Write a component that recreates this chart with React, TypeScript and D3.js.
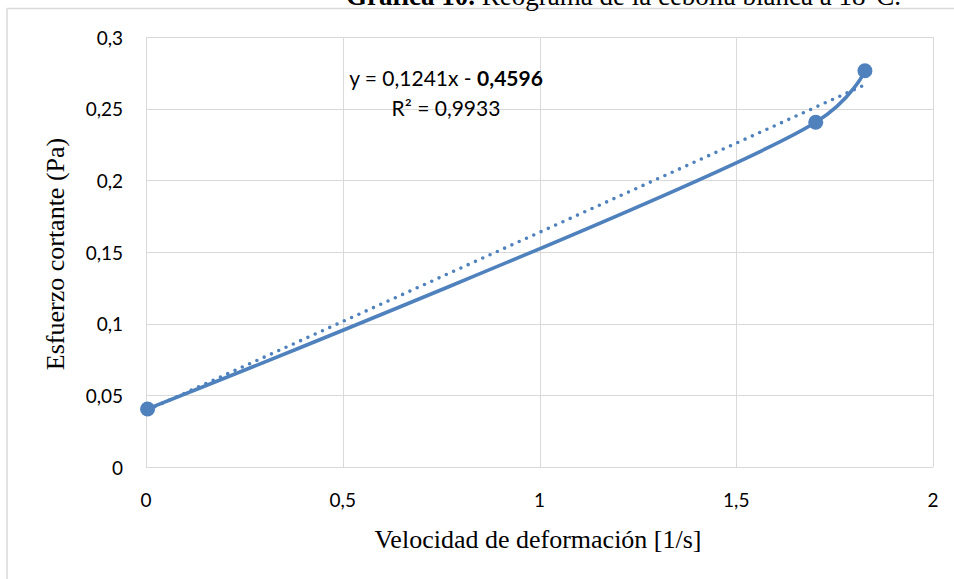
import React, { useRef, useEffect } from 'react';
import * as d3 from 'd3';

// shear rate (1/s) and shear stress (Pa)
const shearRate = [0.004, 1.702, 1.827];
const shearStress = [0.0405, 0.2405, 0.2765];

const xTicks = [0, 0.5, 1, 1.5, 2];
const yTicks = [0, 0.05, 0.1, 0.15, 0.2, 0.25, 0.3];

const eqText = 'y = 0,1241x - ';
const eqBold = '0,4596';
const r2Text = 'R² = 0,9933';

const W = 954;
const H = 579;
const BLUE = '#4f81bd';
const GRID = '#d9d9d9';

const fmt = (v: number) => String(v).replace('.', ',');

function App() {
  const svgRef = useRef<SVGSVGElement>(null);

  useEffect(() => {
    const svg = d3.select(svgRef.current);
    svg.selectAll('*').remove();

    const x = d3.scaleLinear().domain([0, 2]).range([146, 933]);
    const y = d3.scaleLinear().domain([0, 0.3]).range([467, 37]);

    // outer chart border (only top/left visible in the crop)
    svg.append('line').attr('x1', 7).attr('x2', W).attr('y1', 8.5).attr('y2', 8.5)
      .attr('stroke', GRID).attr('stroke-width', 1.5);
    svg.append('line').attr('x1', 7).attr('x2', 7).attr('y1', 8.5).attr('y2', H)
      .attr('stroke', GRID).attr('stroke-width', 1.5);

    // title, cut off at the top
    const title = svg.append('text')
      .attr('x', 346).attr('y', 5)
      .attr('font-family', 'Liberation Serif').attr('font-size', 27);
    title.append('tspan').attr('font-weight', 'bold').text('Gráfica 10.');
    title.append('tspan').text(' Reograma de la cebolla blanca a 18°C.');

    // grid
    svg.append('g').selectAll('line').data(yTicks).join('line')
      .attr('x1', x(0)).attr('x2', x(2))
      .attr('y1', d => Math.round(y(d)) + 0.5).attr('y2', d => Math.round(y(d)) + 0.5)
      .attr('stroke', GRID);
    svg.append('g').selectAll('line').data(xTicks).join('line')
      .attr('y1', y(0)).attr('y2', y(0.3))
      .attr('x1', d => Math.round(x(d)) + 0.5).attr('x2', d => Math.round(x(d)) + 0.5)
      .attr('stroke', GRID);

    // tick labels
    svg.append('g').selectAll('text').data(yTicks).join('text')
      .attr('x', 123).attr('y', d => y(d) + 7.5)
      .attr('text-anchor', 'end')
      .attr('font-family', 'Lato, sans-serif').attr('font-size', 19)
      .text(d => fmt(d));
    svg.append('g').selectAll('text').data(xTicks).join('text')
      .attr('x', d => x(d)).attr('y', 507)
      .attr('text-anchor', 'middle')
      .attr('font-family', 'Lato, sans-serif').attr('font-size', 19)
      .text(d => fmt(d));

    // axis titles
    svg.append('text')
      .attr('x', 538).attr('y', 548)
      .attr('text-anchor', 'middle')
      .attr('font-family', 'Liberation Serif').attr('font-size', 26)
      .text('Velocidad de deformación [1/s]');
    svg.append('text')
      .attr('transform', `translate(64,254) rotate(-90)`)
      .attr('text-anchor', 'middle')
      .attr('font-family', 'Liberation Serif').attr('font-size', 26)
      .text('Esfuerzo cortante (Pa)');

    // linear trendline (least squares over the data)
    const pts = shearRate.map((v, i) => [v, shearStress[i]] as [number, number]);
    const mx = d3.mean(shearRate)!;
    const my = d3.mean(shearStress)!;
    const slope = d3.sum(pts, p => (p[0] - mx) * (p[1] - my)) / d3.sum(pts, p => (p[0] - mx) ** 2);
    const icpt = my - slope * mx;
    const [x0, x1] = d3.extent(shearRate) as [number, number];
    svg.append('line')
      .attr('x1', x(x0)).attr('y1', y(icpt + slope * x0))
      .attr('x2', x(x1)).attr('y2', y(icpt + slope * x1))
      .attr('stroke', BLUE).attr('stroke-width', 3.6)
      .attr('stroke-linecap', 'round').attr('stroke-dasharray', '0 8');

    // smoothed series line
    const line = d3.line<[number, number]>()
      .x(d => x(d[0])).y(d => y(d[1]))
      .curve(d3.curveCatmullRom.alpha(0.4));
    svg.append('path')
      .attr('d', line(pts))
      .attr('fill', 'none').attr('stroke', BLUE).attr('stroke-width', 3.6)
      .attr('stroke-linecap', 'round');

    svg.append('g').selectAll('circle').data(pts).join('circle')
      .attr('cx', d => x(d[0])).attr('cy', d => y(d[1])).attr('r', 7.5)
      .attr('fill', BLUE);

    // trendline label
    const eq = svg.append('text')
      .attr('x', 446).attr('y', 85.5)
      .attr('text-anchor', 'middle')
      .attr('font-family', 'Lato, sans-serif').attr('font-size', 21);
    eq.append('tspan').text(eqText);
    eq.append('tspan').attr('font-weight', 'bold').text(eqBold);
    svg.append('text')
      .attr('x', 446).attr('y', 115.5)
      .attr('text-anchor', 'middle')
      .attr('font-family', 'Lato, sans-serif').attr('font-size', 21)
      .text(r2Text);
  }, []);

  return (
    <div style={{ position: 'absolute', left: 0, top: 0 }}>
      <svg ref={svgRef} width={W} height={H} style={{ display: 'block', background: '#fff' }} />
    </div>
  );
}

export default App;
